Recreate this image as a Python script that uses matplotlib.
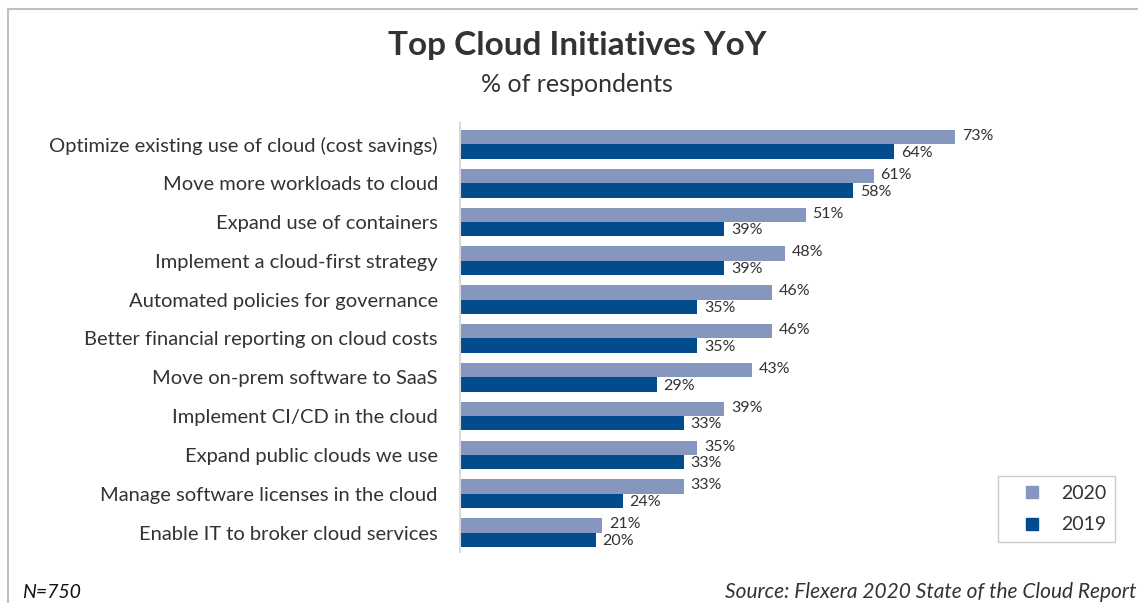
import numpy as np
import matplotlib.pyplot as plt
from matplotlib.lines import Line2D

categories = [
    "Optimize existing use of cloud (cost savings)",
    "Move more workloads to cloud",
    "Expand use of containers",
    "Implement a cloud-first strategy",
    "Automated policies for governance",
    "Better financial reporting on cloud costs",
    "Move on-prem software to SaaS",
    "Implement CI/CD in the cloud",
    "Expand public clouds we use",
    "Manage software licenses in the cloud",
    "Enable IT to broker cloud services",
]
values_2020 = [73, 61, 51, 48, 46, 46, 43, 39, 35, 33, 21]
values_2019 = [64, 58, 39, 39, 35, 35, 29, 33, 33, 24, 20]
series_labels = ["2020", "2019"]

c2020 = "#8596bf"
c2019 = "#024b8c"
txt = "#333333"

plt.rcParams['font.family'] = ['Lato', 'DejaVu Sans']

fig = plt.figure(figsize=(11.38, 6.03), dpi=100)
W, H = 1138, 603
# axes placed in pixel terms: left 460, right 1000, top 123, bottom 552
ax = fig.add_axes([460 / W, 1 - 552 / H, 540 / W, (552 - 123) / H])

y = np.arange(len(categories))
h = 0.37
ax.barh(y - h / 2, values_2020, height=h, color=c2020, label=series_labels[0])
ax.barh(y + h / 2, values_2019, height=h, color=c2019, label=series_labels[1])

for yi, v in zip(y, values_2020):
    ax.text(v + 1.0, yi - h / 2 - 0.03, f"{v}%", va="center", ha="left", fontsize=11.5, color=txt)
for yi, v in zip(y, values_2019):
    ax.text(v + 1.0, yi + h / 2 + 0.03, f"{v}%", va="center", ha="left", fontsize=11.5, color=txt)

ax.set_xlim(0, 540 / 6.78)
ax.set_ylim(len(categories) - 0.5, -0.55)
ax.set_yticks(y)
ax.set_yticklabels(categories, fontsize=14.5, color=txt)
ax.tick_params(axis="y", length=0, pad=16)
ax.set_xticks([])
for s in ["top", "right", "bottom"]:
    ax.spines[s].set_visible(False)
ax.spines["left"].set_color("#d9d9d9")
ax.spines["left"].set_linewidth(1.5)

handles = [Line2D([], [], marker="s", linestyle="none", markersize=9, color=c) for c in (c2020, c2019)]
fig.legend(handles, series_labels, loc="upper left", bbox_to_anchor=(998 / W, 1 - 476 / H),
           borderaxespad=0, frameon=True, fancybox=False, edgecolor="#bfbfbf", fontsize=14,
           labelspacing=0.75, borderpad=0.45, handletextpad=0.2, handlelength=2.6,
           labelcolor=txt)

fig.text(577 / W, 1 - 45 / H, "Top Cloud Initiatives YoY", ha="center", va="center",
         fontsize=24, fontweight="bold", color=txt)
fig.text(577 / W, 1 - 85 / H, "% of respondents", ha="center", va="center",
         fontsize=18, color=txt)
fig.text(22 / W, 1 - 592 / H, "N=750", ha="left", va="center", fontsize=14,
         style="italic", color="#111111")
fig.text(1136 / W, 1 - 592 / H, "Source: Flexera 2020 State of the Cloud Report", ha="right",
         va="center", fontsize=15, style="italic", color=txt)

# frame lines of the slide
fig.add_artist(Line2D([8 / W, 1], [1 - 9 / H, 1 - 9 / H], color="#c0c0c0", lw=1.5))
fig.add_artist(Line2D([8 / W, 8 / W], [0, 1 - 9 / H], color="#c0c0c0", lw=1.5))

fig.savefig("out.png", dpi=100)
